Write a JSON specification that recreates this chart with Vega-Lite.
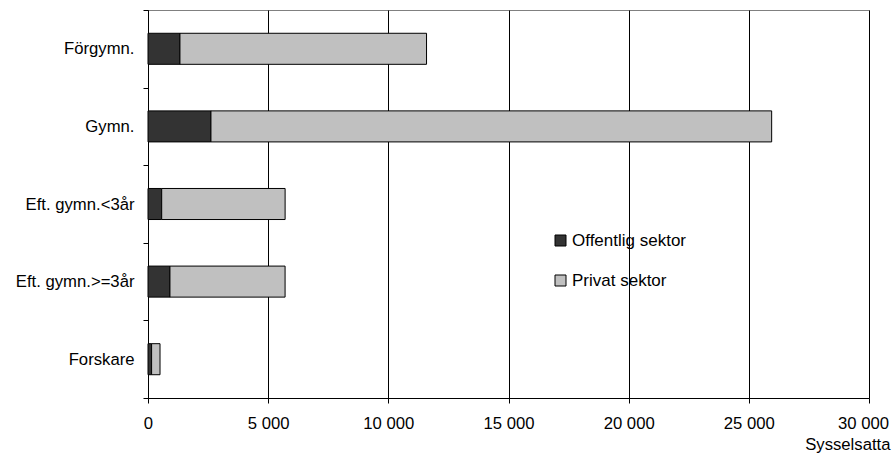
{
  "$schema": "https://vega.github.io/schema/vega-lite/v6.json",
  "width": 721,
  "height": 388,
  "autosize": "none",
  "padding": {"left": 148, "top": 10, "right": 23, "bottom": 59},
  "background": "white",
  "config": {
    "font": "Liberation Sans",
    "view": {"stroke": "#808080", "strokeWidth": 1},
    "axis": {"labelColor": "black", "labelFont": "Liberation Sans", "titleFont": "Liberation Sans", "titleColor": "black", "domainColor": "black", "tickColor": "black"}
  },
  "data": {
    "values": [
      {"utbildning": "Förgymn.", "sektor": "Offentlig sektor", "antal": 1330},
      {"utbildning": "Förgymn.", "sektor": "Privat sektor", "antal": 10260},
      {"utbildning": "Gymn.", "sektor": "Offentlig sektor", "antal": 2620},
      {"utbildning": "Gymn.", "sektor": "Privat sektor", "antal": 23330},
      {"utbildning": "Eft. gymn.<3år", "sektor": "Offentlig sektor", "antal": 570},
      {"utbildning": "Eft. gymn.<3år", "sektor": "Privat sektor", "antal": 5135},
      {"utbildning": "Eft. gymn.>=3år", "sektor": "Offentlig sektor", "antal": 914},
      {"utbildning": "Eft. gymn.>=3år", "sektor": "Privat sektor", "antal": 4790},
      {"utbildning": "Forskare", "sektor": "Offentlig sektor", "antal": 150},
      {"utbildning": "Forskare", "sektor": "Privat sektor", "antal": 350}
    ]
  },
  "mark": {"type": "bar", "stroke": "black", "strokeWidth": 1, "height": {"band": 0.4}},
  "encoding": {
    "y": {
      "field": "utbildning",
      "type": "nominal",
      "sort": ["Förgymn.", "Gymn.", "Eft. gymn.<3år", "Eft. gymn.>=3år", "Forskare"],
      "scale": {"paddingInner": 0, "paddingOuter": 0},
      "axis": {"title": null, "tickBand": "extent", "labelFontSize": 16.7, "labelPadding": 9, "tickSize": 5, "grid": false}
    },
    "x": {
      "field": "antal",
      "type": "quantitative",
      "stack": "zero",
      "scale": {"domain": [0, 30000], "nice": false},
      "axis": {
        "values": [0, 5000, 10000, 15000, 20000, 25000, 30000],
        "labelExpr": "replace(format(datum.value, ',d'), ',', ' ')",
        "labelFontSize": 16.7,
        "labelPadding": 12,
        "labelFlush": false,
        "labelOverlap": false,
        "labelOffset": {"condition": {"test": "datum.value === 30000", "value": -6}, "value": 0},
        "tickSize": 5,
        "grid": true,
        "gridColor": "black",
        "gridWidth": 1,
        "gridOpacity": 1,
        "title": "Sysselsatta",
        "titleFontSize": 16.7,
        "titleFontWeight": "normal",
        "titleAnchor": "end",
        "titleAlign": "right",
        "titleBaseline": "alphabetic",
        "titleX": 742,
        "titleY": 51
      }
    },
    "color": {
      "field": "sektor",
      "type": "nominal",
      "scale": {"domain": ["Offentlig sektor", "Privat sektor"], "range": ["#333333", "#c0c0c0"]},
      "legend": {
        "title": null,
        "orient": "none",
        "legendX": 404,
        "legendY": 222,
        "symbolType": "square",
        "symbolSize": 121,
        "symbolStrokeColor": "black",
        "symbolStrokeWidth": 1,
        "labelFontSize": 17,
        "labelColor": "black",
        "rowPadding": 22,
        "labelOffset": 3
      }
    }
  }
}
